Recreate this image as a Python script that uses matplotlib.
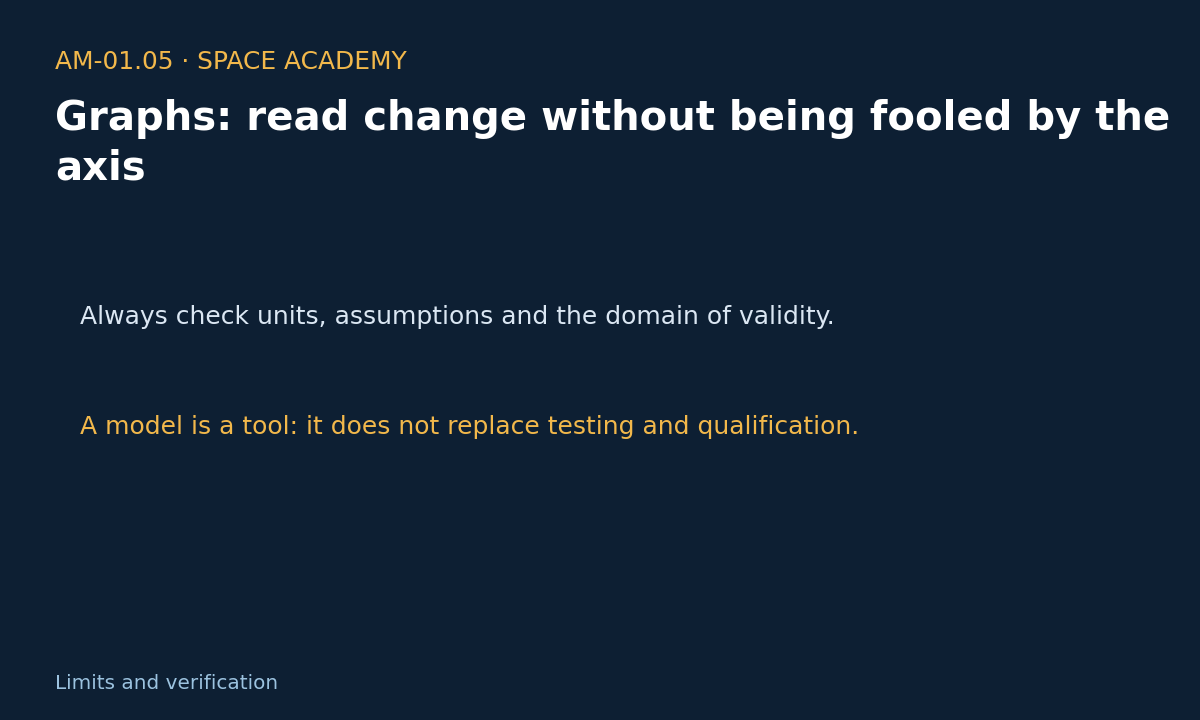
import matplotlib
matplotlib.use('Agg')
import matplotlib.pyplot as plt

plt.rcParams['font.family'] = ['DejaVu Sans']

# slide content
kicker = 'AM-01.05 · SPACE ACADEMY'
title_lines = ['Graphs: read change without being fooled by the', 'axis']
body_lines = ['Always check units, assumptions and the domain of validity.',
              'A model is a tool: it does not replace testing and qualification.']
footer = 'Limits and verification'

W, H = 1200, 720
bg = '#0d1f33'
gold = '#f2b84b'

fig = plt.figure(figsize=(W / 100, H / 100), dpi=100, facecolor=bg)

def put(x, y, s, **kw):
    # pixel coords from top-left, baseline anchored
    fig.text(x / W, 1 - y / H, s, va='baseline', ha='left', **kw)

put(55, 69, kicker, color=gold, fontsize=17.9)
for i, line in enumerate(title_lines):
    put(55, 130 + i * 50, line, color='white', fontsize=28.9, fontweight='bold')
put(80, 324, body_lines[0], color='#dbe7f3', fontsize=18)
put(80, 434, body_lines[1], color=gold, fontsize=18)
put(55, 689, footer, color='#9cc3e0', fontsize=14.4)

fig.savefig('out.png', dpi=100, facecolor=bg)
